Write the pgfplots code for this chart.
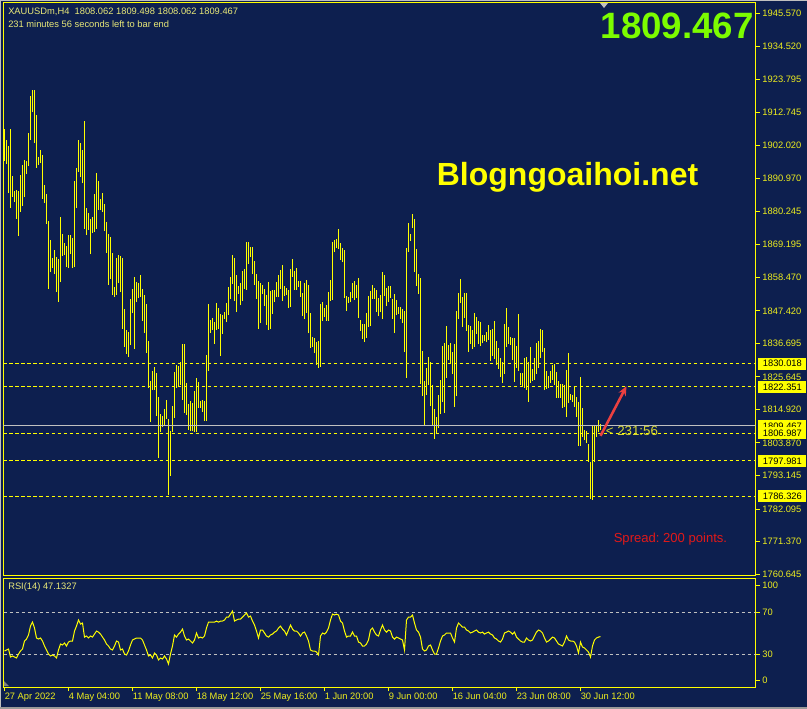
\documentclass[border=0pt]{standalone}
\usepackage{pgfplots}
\pgfplotsset{compat=1.18}
\usepackage{pgfplotstable}
\usepackage{fontspec}
\setmainfont{Liberation Sans}
\usetikzlibrary{arrows.meta}
\definecolor{bg}{RGB}{13,31,79}
\definecolor{mty}{RGB}{255,255,0}
\definecolor{lbl}{RGB}{238,238,30}
\definecolor{txt}{RGB}{232,232,120}
\definecolor{lgray}{RGB}{192,192,192}
\definecolor{grn}{RGB}{124,252,0}
\definecolor{arrowred}{RGB}{235,64,64}
\definecolor{spreadred}{RGB}{225,25,25}
\definecolor{timer}{RGB}{215,215,50}

\pgfplotstableread{
i hi lo
0 1907.3 1896.8
1 1903.7 1895.8
2 1901.7 1886.2
3 1907.3 1881.3
4 1891.8 1884.9
5 1886.9 1883.3
6 1887.2 1877.7
7 1886.9 1872.1
8 1892.2 1880.0
9 1895.5 1881.9
10 1897.1 1884.9
11 1896.8 1892.5
12 1906.0 1895.1
13 1918.2 1903.7
14 1920.2 1912.9
15 1920.2 1902.7
16 1911.9 1894.5
17 1898.1 1895.5
18 1900.4 1896.1
19 1898.8 1884.3
20 1888.9 1882.9
21 1885.9 1876.0
22 1877.0 1854.6
23 1870.7 1860.2
24 1864.8 1861.5
25 1867.4 1859.5
26 1865.1 1853.6
27 1864.5 1850.3
28 1878.3 1856.9
29 1872.7 1865.5
30 1869.8 1865.8
31 1868.8 1861.8
32 1872.4 1861.5
33 1872.4 1866.1
34 1871.4 1861.5
35 1890.2 1861.8
36 1894.5 1881.3
37 1903.7 1893.2
38 1902.7 1891.5
39 1900.4 1889.5
40 1910.0 1874.4
41 1881.3 1872.4
42 1879.7 1874.1
43 1877.7 1866.1
44 1878.3 1873.1
45 1885.9 1873.4
46 1892.8 1874.4
47 1890.2 1880.6
48 1884.3 1880.6
49 1886.2 1880.0
50 1882.6 1873.7
51 1876.7 1866.5
52 1872.7 1855.9
53 1871.7 1857.9
54 1866.5 1852.6
55 1855.3 1852.0
56 1864.8 1852.6
57 1865.8 1856.6
58 1865.5 1853.6
59 1864.8 1841.4
60 1848.0 1835.5
61 1841.1 1833.2
62 1840.4 1832.2
63 1851.3 1836.1
64 1854.6 1846.7
65 1858.6 1834.8
66 1856.9 1850.3
67 1856.6 1851.6
68 1859.2 1852.0
69 1854.6 1844.0
70 1852.6 1840.1
71 1849.7 1833.5
72 1837.5 1822.0
73 1824.3 1810.8
74 1827.6 1821.3
75 1828.9 1821.3
76 1826.9 1812.7
77 1819.0 1798.9
78 1813.4 1807.5
79 1812.7 1809.1
80 1815.1 1809.8
81 1818.0 1811.8
82 1811.8 1786.7
83 1807.8 1793.0
84 1816.0 1807.5
85 1827.2 1812.1
86 1829.6 1822.0
87 1829.2 1822.3
88 1830.5 1823.0
89 1836.5 1818.0
90 1836.5 1813.7
91 1823.6 1813.1
92 1816.7 1808.1
93 1817.7 1807.8
94 1817.0 1807.8
95 1821.0 1807.5
96 1825.3 1807.5
97 1824.0 1815.4
98 1817.7 1815.4
99 1818.0 1814.1
100 1817.7 1811.1
101 1832.9 1811.1
102 1849.7 1827.6
103 1844.4 1840.1
104 1845.0 1841.1
105 1843.7 1836.5
106 1850.0 1841.1
107 1848.3 1841.4
108 1846.4 1832.5
109 1846.0 1839.8
110 1847.0 1844.7
111 1850.0 1843.7
112 1855.3 1846.0
113 1858.6 1851.3
114 1865.8 1856.3
115 1864.8 1850.7
116 1859.2 1847.0
117 1855.6 1853.0
118 1856.6 1849.3
119 1860.5 1850.7
120 1861.2 1854.6
121 1870.1 1854.3
122 1870.1 1862.8
123 1868.4 1865.2
124 1868.4 1859.5
125 1863.8 1855.9
126 1859.5 1851.3
127 1857.2 1841.4
128 1856.6 1843.4
129 1855.9 1853.0
130 1854.6 1849.0
131 1852.6 1842.7
132 1856.9 1841.1
133 1853.9 1841.4
134 1854.3 1846.4
135 1854.3 1850.3
136 1856.9 1852.0
137 1859.2 1852.0
138 1860.9 1854.6
139 1862.5 1850.7
140 1855.6 1852.3
141 1854.9 1852.6
142 1854.3 1848.3
143 1861.2 1848.7
144 1864.5 1858.6
145 1860.5 1854.3
146 1861.5 1854.3
147 1857.2 1855.3
148 1857.2 1852.0
149 1853.3 1845.7
150 1856.6 1844.7
151 1857.6 1846.7
152 1855.9 1840.1
153 1846.7 1835.2
154 1838.8 1835.5
155 1838.4 1833.5
156 1837.1 1829.6
157 1837.5 1828.6
158 1849.7 1828.9
159 1850.3 1844.1
160 1848.3 1845.4
161 1849.3 1844.1
162 1853.6 1844.1
163 1857.6 1850.7
164 1870.1 1851.0
165 1870.8 1866.8
166 1871.1 1868.1
167 1874.4 1867.8
168 1869.8 1864.2
169 1868.1 1863.5
170 1867.5 1851.6
171 1852.3 1847.4
172 1852.0 1850.0
173 1853.6 1850.3
174 1856.6 1851.6
175 1857.2 1851.0
176 1855.9 1851.6
177 1858.2 1845.0
178 1844.4 1840.8
179 1843.1 1838.1
180 1843.1 1837.1
181 1846.7 1838.4
182 1852.3 1842.1
183 1853.9 1842.4
184 1855.9 1851.3
185 1854.9 1851.3
186 1854.3 1847.0
187 1851.6 1845.7
188 1852.6 1847.0
189 1860.2 1844.7
190 1859.2 1852.3
191 1854.9 1849.0
192 1855.6 1850.3
193 1855.6 1851.6
194 1851.3 1844.7
195 1853.0 1840.1
196 1851.0 1846.0
197 1848.7 1846.4
198 1848.7 1844.7
199 1848.0 1843.4
200 1847.4 1833.8
201 1868.1 1825.3
202 1876.4 1866.8
203 1872.7 1870.4
204 1879.3 1874.7
205 1877.7 1860.2
206 1867.8 1855.6
207 1859.5 1853.0
208 1858.2 1823.3
209 1834.2 1819.3
210 1824.3 1809.4
211 1828.6 1819.7
212 1832.2 1823.0
213 1830.5 1816.0
214 1823.0 1809.4
215 1815.1 1805.2
216 1812.4 1806.8
217 1819.7 1808.8
218 1824.6 1813.4
219 1835.8 1817.4
220 1836.8 1813.7
221 1842.4 1825.3
222 1836.2 1831.2
223 1836.8 1829.9
224 1833.8 1826.6
225 1836.5 1815.7
226 1847.4 1819.3
227 1853.3 1844.7
228 1857.9 1850.0
229 1852.0 1842.1
230 1853.3 1845.0
231 1853.3 1840.8
232 1842.7 1833.8
233 1842.4 1836.5
234 1841.1 1834.8
235 1846.7 1835.5
236 1845.4 1839.8
237 1844.1 1836.5
238 1843.7 1835.8
239 1839.4 1836.8
240 1839.4 1837.5
241 1840.4 1837.1
242 1842.7 1837.8
243 1841.1 1830.9
244 1841.4 1832.5
245 1844.1 1831.5
246 1837.5 1829.6
247 1835.2 1828.2
248 1831.9 1825.6
249 1830.6 1823.6
250 1843.1 1826.6
251 1848.3 1835.5
252 1842.1 1836.5
253 1838.8 1836.2
254 1838.5 1831.2
255 1838.5 1824.0
256 1835.8 1828.6
257 1846.4 1827.6
258 1826.9 1823.0
259 1826.9 1822.3
260 1831.9 1822.0
261 1832.2 1821.3
262 1830.6 1817.4
263 1835.5 1823.6
264 1828.2 1824.3
265 1831.9 1824.6
266 1836.8 1826.6
267 1837.5 1828.6
268 1841.4 1831.9
269 1841.1 1833.8
270 1835.2 1821.3
271 1827.6 1821.6
272 1825.9 1822.0
273 1827.6 1823.6
274 1829.6 1824.6
275 1829.9 1823.0
276 1827.3 1818.7
277 1824.3 1818.7
278 1823.3 1818.7
279 1823.3 1815.4
280 1823.0 1815.7
281 1827.9 1812.4
282 1833.5 1817.0
283 1820.0 1818.0
284 1819.7 1817.4
285 1822.3 1815.7
286 1819.0 1812.4
287 1817.4 1802.9
288 1825.6 1802.9
289 1815.4 1805.8
290 1808.1 1804.8
291 1807.8 1803.8
292 1803.5 1797.6
293 1797.6 1785.4
294 1809.4 1785.1
295 1809.8 1797.6
296 1809.8 1805.8
297 1811.4 1807.5
298 1810.1 1808.1
}\bars

\pgfplotstableread{
i r
0 33.2
1 34.2
2 35.1
3 27.4
4 28.4
5 27.4
6 26.5
7 30.3
8 33.2
9 35.1
10 42.8
11 44.7
12 48.6
13 57.2
14 61.0
15 55.3
16 45.7
17 44.7
18 45.7
19 42.8
20 38.0
21 34.2
22 30.3
23 28.4
24 29.4
25 28.4
26 26.5
27 34.2
28 39.9
29 39.0
30 40.9
31 38.0
32 41.8
33 42.8
34 42.8
35 52.4
36 57.2
37 63.0
38 59.1
39 60.1
40 46.6
41 47.6
42 45.7
43 47.6
44 46.6
45 49.5
46 52.4
47 51.4
48 49.5
49 46.6
50 43.8
51 39.9
52 38.0
53 35.1
54 34.2
55 38.0
56 42.8
57 41.8
58 34.2
59 35.1
60 30.3
61 29.4
62 33.2
63 39.0
64 43.8
65 44.7
66 45.7
67 45.7
68 45.7
69 43.8
70 39.0
71 34.2
72 28.4
73 29.4
74 26.5
75 31.3
76 29.4
77 24.6
78 26.5
79 25.5
80 28.4
81 25.5
82 20.7
83 30.3
84 38.0
85 48.6
86 46.6
87 49.5
88 51.4
89 54.3
90 47.6
91 43.8
92 44.7
93 42.8
94 40.9
95 43.8
96 50.5
97 45.7
98 46.6
99 45.7
100 47.6
101 55.3
102 61.0
103 61.0
104 61.0
105 61.0
106 62.0
107 61.0
108 62.0
109 62.0
110 63.0
111 65.8
112 65.8
113 68.7
114 71.6
115 62.0
116 63.0
117 63.9
118 63.9
119 65.8
120 67.8
121 69.7
122 65.8
123 66.8
124 62.0
125 58.2
126 52.4
127 45.7
128 53.4
129 53.4
130 50.5
131 47.6
132 46.6
133 48.6
134 49.5
135 51.4
136 52.4
137 55.3
138 57.2
139 54.3
140 52.4
141 48.6
142 53.4
143 58.2
144 54.3
145 52.4
146 52.4
147 50.5
148 47.6
149 50.5
150 51.4
151 47.6
152 42.8
153 34.2
154 33.2
155 33.2
156 32.2
157 29.4
158 47.6
159 50.5
160 49.5
161 51.4
162 55.3
163 63.0
164 68.7
165 67.8
166 68.7
167 67.8
168 62.0
169 60.1
170 52.4
171 46.6
172 47.6
173 47.6
174 51.4
175 47.6
176 47.6
177 41.8
178 40.9
179 38.0
180 38.0
181 39.9
182 43.8
183 53.4
184 55.3
185 51.4
186 48.6
187 47.6
188 53.4
189 58.2
190 53.4
191 51.4
192 53.4
193 52.4
194 46.6
195 44.7
196 46.6
197 45.7
198 44.7
199 43.8
200 34.2
201 63.0
202 65.8
203 65.8
204 67.8
205 60.1
206 53.4
207 51.4
208 46.6
209 35.1
210 33.2
211 34.2
212 38.0
213 39.0
214 34.2
215 30.3
216 30.3
217 36.1
218 42.8
219 47.6
220 48.6
221 50.5
222 50.5
223 50.5
224 45.7
225 41.8
226 55.3
227 60.1
228 58.2
229 56.2
230 56.2
231 53.4
232 52.4
233 50.5
234 51.4
235 52.4
236 53.4
237 51.4
238 50.5
239 51.4
240 49.5
241 50.5
242 51.4
243 49.5
244 48.6
245 45.7
246 44.7
247 42.8
248 41.8
249 44.7
250 50.5
251 51.4
252 52.4
253 51.4
254 49.5
255 51.4
256 46.6
257 44.7
258 42.8
259 41.8
260 41.8
261 45.7
262 43.8
263 42.8
264 43.8
265 47.6
266 51.4
267 53.4
268 52.4
269 50.5
270 45.7
271 41.8
272 42.8
273 44.7
274 46.6
275 45.7
276 42.8
277 39.9
278 39.0
279 38.0
280 41.8
281 47.6
282 43.8
283 42.8
284 42.8
285 41.8
286 38.0
287 31.3
288 41.8
289 37.0
290 36.1
291 34.2
292 32.2
293 27.4
294 38.0
295 43.8
296 45.7
297 46.6
298 47.1
}\rsi

\begin{document}
\begin{tikzpicture}
\useasboundingbox (0,0) rectangle (605.25pt,-531.75pt);
\fill[bg] (0,0) rectangle (605.25pt,-531.75pt);

% ---------- main price panel ----------
\begin{axis}[
  at={(2.625pt,-2.25pt)}, anchor=north west,
  scale only axis, width=564pt, height=429.375pt,
  xmin=-0.5, xmax=375.5, ymin=1760.18, ymax=1948.87,
  axis line style={mty, line width=0.75pt},
  xtick=\empty,
  ytick={1945.570,1934.520,1923.795,1912.745,1902.020,1890.970,1880.245,1869.195,1858.470,1847.420,1836.695,1825.645,1814.920,1803.870,1793.145,1782.095,1771.370,1760.645},
  yticklabels={1945.570,1934.520,1923.795,1912.745,1902.020,1890.970,1880.245,1869.195,1858.470,1847.420,1836.695,1825.645,1814.920,1803.870,1793.145,1782.095,1771.370,1760.645},
  ytick pos=right, yticklabel pos=right,
  tick align=outside, major tick length=3pt,
  ytick style={mty, line width=0.75pt},
  yticklabel style={font=\fontsize{7}{8}\selectfont, text=lbl, anchor=west, inner sep=0pt, xshift=2pt},
  clip mode=individual,
]
\addplot[mty, line width=0.75pt, mark=none, -,
  quiver={u=0, v=\thisrow{hi}-\thisrow{lo}}]
  table[x=i, y=lo] {\bars};
\addplot[mty, line width=0.75pt, dash pattern=on 2.7pt off 1.8pt] coordinates {(-0.5,1830.018) (375.5,1830.018)};
\addplot[mty, line width=0.75pt, dash pattern=on 2.7pt off 1.8pt] coordinates {(-0.5,1822.351) (375.5,1822.351)};
\addplot[mty, line width=0.75pt, dash pattern=on 2.7pt off 1.8pt] coordinates {(-0.5,1806.987) (375.5,1806.987)};
\addplot[mty, line width=0.75pt, dash pattern=on 2.7pt off 1.8pt] coordinates {(-0.5,1797.981) (375.5,1797.981)};
\addplot[mty, line width=0.75pt, dash pattern=on 2.7pt off 1.8pt] coordinates {(-0.5,1786.326) (375.5,1786.326)};
\addplot[lgray, line width=0.75pt] coordinates {(-0.5,1809.467) (375.5,1809.467)};
\draw[arrowred, line width=1.9pt, -{Stealth[length=7pt,width=6pt]}] (axis cs:298,1806.2) -- (axis cs:311,1822.6);
\node[anchor=west, text=timer, font=\fontsize{10}{12}\selectfont, inner sep=0pt] at (axis cs:300.5,1807.8) {< 231:56};
\node[anchor=west, text=spreadred, font=\fontsize{9.8}{11}\selectfont, inner sep=0pt] at (axis cs:304.5,1772.2) {\frenchspacing Spread: 200 points.};
\node[anchor=center, text=mty, font=\bfseries\fontsize{24}{28}\selectfont, inner sep=0pt] at (axis cs:281.5,1891.5) {Blogngoaihoi.net};
\coordinate (b1) at (axis cs:376.8,1830.018);
\coordinate (b2) at (axis cs:376.8,1822.351);
\coordinate (b3) at (axis cs:376.8,1809.467);
\coordinate (b4) at (axis cs:376.8,1806.987);
\coordinate (b5) at (axis cs:376.8,1797.981);
\coordinate (b6) at (axis cs:376.8,1786.326);
\end{axis}

\tikzset{pbox/.style={anchor=west, fill=mty, text=black, font=\fontsize{7}{8}\selectfont, inner xsep=3.4pt, inner ysep=0pt, minimum height=9pt, text width=29pt, align=left}}
\node[pbox] at (b1) {1830.018};
\node[pbox] at (b2) {1822.351};
\node[pbox] at (b3) {1809.467};
\node[pbox] at (b4) {1806.987};
\node[pbox] at (b5) {1797.981};
\node[pbox] at (b6) {1786.326};

% ---------- RSI panel ----------
\begin{axis}[
  at={(2.625pt,-433.5pt)}, anchor=north west,
  scale only axis, width=564pt, height=81.75pt,
  xmin=-0.5, xmax=375.5, ymin=-1.4, ymax=103.4,
  axis line style={mty, line width=0.75pt},
  xtick={0,32,64,96,128,160,192,224,256,288},
  xticklabels={27 Apr 2022,4 May 04:00,11 May 08:00,18 May 12:00,25 May 16:00,1 Jun 20:00,9 Jun 00:00,16 Jun 04:00,23 Jun 08:00,30 Jun 12:00},
  xtick pos=bottom, xticklabel pos=bottom,
  ytick={5.3,30,70,96.6}, yticklabels={0,30,70,100},
  ytick pos=right, yticklabel pos=right,
  tick align=outside, major tick length=3pt,
  tick style={mty, line width=0.75pt},
  yticklabel style={font=\fontsize{7}{8}\selectfont, text=lbl, anchor=west, inner sep=0pt, xshift=2pt},
  xticklabel style={font=\fontsize{7}{8}\selectfont, text=lbl, anchor=north west, inner sep=0pt, yshift=-1pt},
  clip mode=individual,
]
\addplot[lgray, line width=0.75pt, dash pattern=on 2.7pt off 1.8pt] coordinates {(-0.5,70) (375.5,70)};
\addplot[lgray, line width=0.75pt, dash pattern=on 2.7pt off 1.8pt] coordinates {(-0.5,30) (375.5,30)};
\addplot[mty, line width=0.75pt, mark=none] table[x=i, y=r] {\rsi};
\end{axis}

\begin{scope}[x=0.75pt,y=-0.75pt]
  \fill[lgray] (0,0) rectangle (807,1);
  \fill[lgray] (0,0) rectangle (1,709);
  \fill[gray!80] (0,706.5) rectangle (807,709);
  \node[anchor=west, text=txt, font=\fontsize{7}{8}\selectfont, inner sep=0pt] at (8,12) {XAUUSDm,H4\ \ 1808.062 1809.498 1808.062 1809.467};
  \node[anchor=west, text=txt, font=\fontsize{7}{8}\selectfont, inner sep=0pt] at (8,24) {231 minutes 56 seconds left to bar end};
  \node[anchor=west, text=txt, font=\fontsize{7}{8}\selectfont, inner sep=0pt] at (8,587) {RSI(14) 47.1327};
  \node[anchor=east, text=grn, font=\bfseries\fontsize{27.5}{30}\selectfont, inner sep=0pt] at (754,25.5) {1809.467};
  \fill[lgray] (600,3) -- (608,3) -- (604,8) -- cycle;
  \fill[gray] (4,681) -- (4,686) -- (9,686) -- cycle;
\end{scope}
\end{tikzpicture}
\end{document}
